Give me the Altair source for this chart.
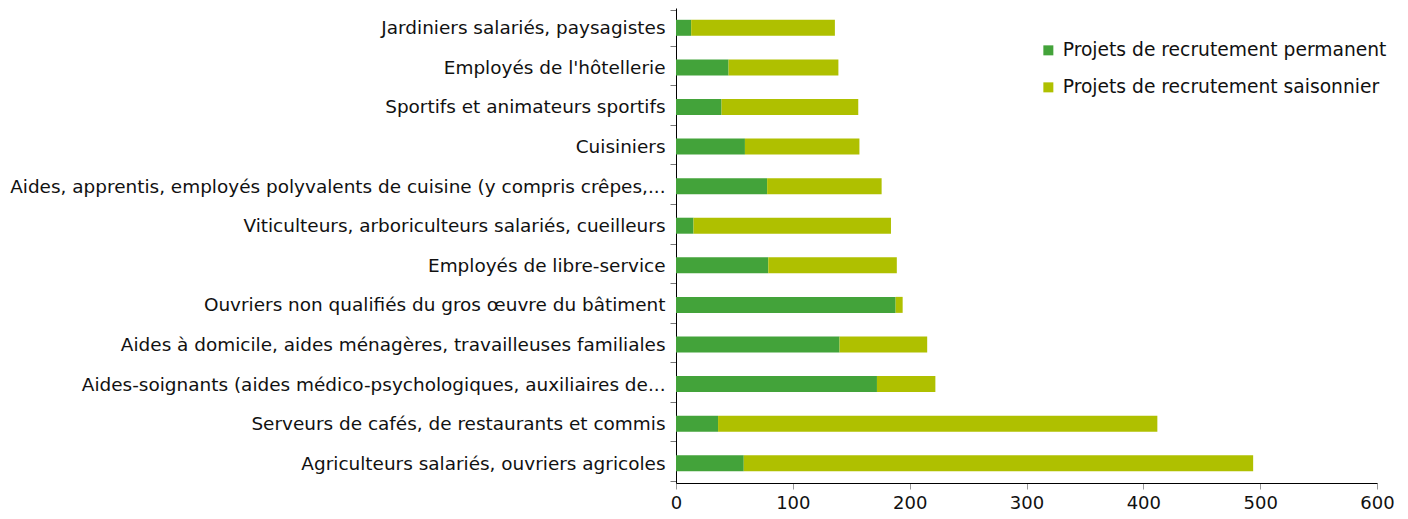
import altair as alt
import pandas as pd

categories = [
    "Jardiniers salariés, paysagistes",
    "Employés de l'hôtellerie",
    "Sportifs et animateurs sportifs",
    "Cuisiniers",
    "Aides, apprentis, employés polyvalents de cuisine (y compris crêpes,...",
    "Viticulteurs, arboriculteurs salariés, cueilleurs",
    "Employés de libre-service",
    "Ouvriers non qualifiés du gros œuvre du bâtiment",
    "Aides à domicile, aides ménagères, travailleuses familiales",
    "Aides-soignants (aides médico-psychologiques, auxiliaires de...",
    "Serveurs de cafés, de restaurants et commis",
    "Agriculteurs salariés, ouvriers agricoles",
]
permanent = [13, 45, 39, 59, 78, 15, 79, 188, 140, 172, 36, 58]
saisonnier = [123, 94, 117, 98, 98, 169, 110, 6, 75, 50, 376, 436]

series = ["Projets de recrutement permanent", "Projets de recrutement saisonnier"]
colors = ["#43a33a", "#afc000"]

rows = []
for c, p, s in zip(categories, permanent, saisonnier):
    rows.append({"cat": c, "serie": series[0], "val": p, "ord": 0})
    rows.append({"cat": c, "serie": series[1], "val": s, "ord": 1})
df = pd.DataFrame(rows)

FONT = "DejaVu Sans"

chart = alt.Chart(df).mark_bar(size=16).encode(
    y=alt.Y("cat:N", sort=categories, title=None,
            axis=alt.Axis(tickBand="extent", labelFontSize=18.45, labelFont=FONT,
                          labelColor="#111", labelLimit=900, tickColor="#777",
                          tickSize=6, domainColor="#000", labelPadding=5)),
    x=alt.X("val:Q", stack="zero", title=None,
            scale=alt.Scale(domain=[0, 600], nice=False),
            axis=alt.Axis(values=[0, 100, 200, 300, 400, 500, 600], grid=False,
                          labelFlush=False,
                          labelFontSize=18, labelFont=FONT, labelColor="#111",
                          tickColor="#999", tickSize=6, domainColor="#000",
                          labelPadding=5)),
    color=alt.Color("serie:N", scale=alt.Scale(domain=series, range=colors),
                    legend=alt.Legend(title=None, orient="none", legendX=363, legendY=33,
                                      symbolType="square", symbolSize=100,
                                      symbolStrokeWidth=0, labelFontSize=18.7,
                                      labelFont=FONT, labelColor="#111",
                                      labelLimit=600,
                                      rowPadding=17, labelOffset=5)),
    order=alt.Order("ord:Q"),
).properties(
    width=701, height=475,
    padding={"left": 1, "top": -9, "right": 0, "bottom": 0},
).configure_view(stroke=None).configure_axis(grid=False)

chart.save("out.html", embed_options={"renderer": "svg", "actions": False})
